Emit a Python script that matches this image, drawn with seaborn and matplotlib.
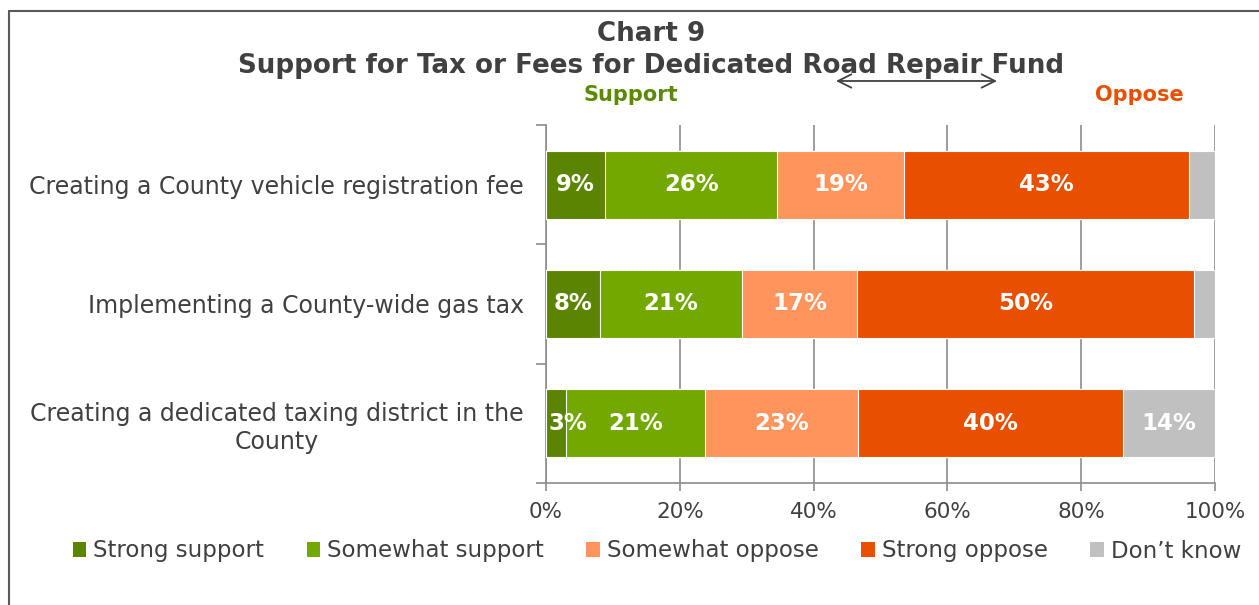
import numpy as np
import pandas as pd
import seaborn as sns
from matplotlib import pyplot as plt
from matplotlib.lines import Line2D
from matplotlib.patches import Patch

items = ['Creating a County vehicle registration fee',
         'Implementing a County-wide gas tax',
         'Creating a dedicated taxing district in the\nCounty']
segments = ['Strong support', 'Somewhat support', 'Somewhat oppose',
            'Strong oppose', 'Don\u2019t know']
strong_support = [8.8, 8.1, 3.0]
somewhat_support = [25.8, 21.2, 20.8]
somewhat_oppose = [18.9, 17.2, 22.8]
strong_oppose = [42.6, 50.4, 39.6]
dont_know = [3.9, 3.1, 13.8]
colors = ['#5B8500', '#73A800', '#FF945C', '#E85000', '#C0C0C0']
xticks = [0, 20, 40, 60, 80, 100]

sns.set_style('white')
plt.rcParams['font.family'] = ['DejaVu Sans']
text_col = '#404040'
grid_col = '#8C8C8C'

vals = np.array([strong_support, somewhat_support, somewhat_oppose,
                 strong_oppose, dont_know])
cum = vals.cumsum(axis=0)

fig = plt.figure(figsize=(12.59, 6.05), dpi=100)
ax = fig.add_axes([546 / 1259, 1 - 483 / 605, 669 / 1259, 358 / 605])

# stacked bars: draw cumulative totals from the right-most segment back
for k in range(len(segments) - 1, -1, -1):
    df = pd.DataFrame({'item': items, 'cum': cum[k]})
    sns.barplot(data=df, x='cum', y='item', color=colors[k], width=0.57,
                edgecolor='white', linewidth=0.8, saturation=1, ax=ax, zorder=3)

for k in range(len(segments)):
    for i in range(len(items)):
        v = vals[k, i]
        if v < 2.5 or (k == 4 and v < 8):
            continue
        left = cum[k, i] - v
        if v < 5:
            ax.text(left + 0.4, i, '%d%%' % round(v), ha='left', va='center',
                    color='white', fontsize=16.5, fontweight='bold', zorder=5)
        else:
            ax.text(left + v / 2, i, '%d%%' % round(v), ha='center', va='center',
                    color='white', fontsize=16.5, fontweight='bold', zorder=5)

ax.set_xlim(0, 100)
ax.set_ylim(2.5, -0.5)
ax.set_xticks(xticks)
ax.set_xticklabels(['%d%%' % t for t in xticks])
ax.set_xlabel('')
ax.set_ylabel('')
ax.set_yticks(range(len(items)))
ax.set_yticklabels(items, multialignment='center')
ax.set_yticks([-0.5, 0.5, 1.5, 2.5], minor=True)
ax.tick_params(axis='y', which='major', length=0, pad=16, labelsize=17,
               labelcolor=text_col)
ax.tick_params(axis='y', which='minor', length=7, width=1.2, color=grid_col, left=True)
ax.tick_params(axis='x', length=6, width=1.2, color=grid_col, bottom=True,
               labelsize=15.5, labelcolor=text_col, pad=8)
ax.xaxis.grid(True, color=grid_col, linewidth=1.2, zorder=0)
ax.set_axisbelow(True)
for s in ['top', 'right']:
    ax.spines[s].set_visible(False)
for s in ['left', 'bottom']:
    ax.spines[s].set_color(grid_col)
    ax.spines[s].set_linewidth(1.2)

fig.text(651 / 1259, 1 - 34 / 605, 'Chart 9', ha='center', va='center',
         fontsize=18.8, fontweight='bold', color=text_col)
fig.text(651 / 1259, 1 - 66 / 605, 'Support for Tax or Fees for Dedicated Road Repair Fund',
         ha='center', va='center', fontsize=18.8, fontweight='bold', color=text_col)
fig.text(631 / 1259, 1 - 95 / 605, 'Support', ha='center', va='center',
         fontsize=15, fontweight='bold', color='#5B8A00')
fig.text(1139 / 1259, 1 - 95 / 605, 'Oppose', ha='center', va='center',
         fontsize=15, fontweight='bold', color='#E85000')
fig.add_artist(plt.Annotation('', xy=(836 / 1259, 1 - 81 / 605),
                              xytext=(997 / 1259, 1 - 81 / 605),
                              xycoords='figure fraction', textcoords='figure fraction',
                              arrowprops=dict(arrowstyle='<->', color=text_col, lw=1.3,
                                              mutation_scale=24, shrinkA=0, shrinkB=0)))

# outer frame (left and top edges visible)
fig.add_artist(Line2D([8.5 / 1259, 8.5 / 1259], [0, 1 - 11 / 605],
                      color='#595959', lw=1.5, transform=fig.transFigure))
fig.add_artist(Line2D([8.5 / 1259, 1], [1 - 11 / 605, 1 - 11 / 605],
                      color='#595959', lw=1.5, transform=fig.transFigure))

handles = [Patch(facecolor=c, edgecolor='none') for c in colors]
fig.legend(handles, segments, loc='center', bbox_to_anchor=(657 / 1259, 1 - 551 / 605),
           ncol=5, frameon=False, fontsize=16.5, handlelength=0.6, handleheight=0.6,
           handletextpad=0.3, columnspacing=1.85, labelcolor=text_col)

fig.savefig('out.png', dpi=100)
